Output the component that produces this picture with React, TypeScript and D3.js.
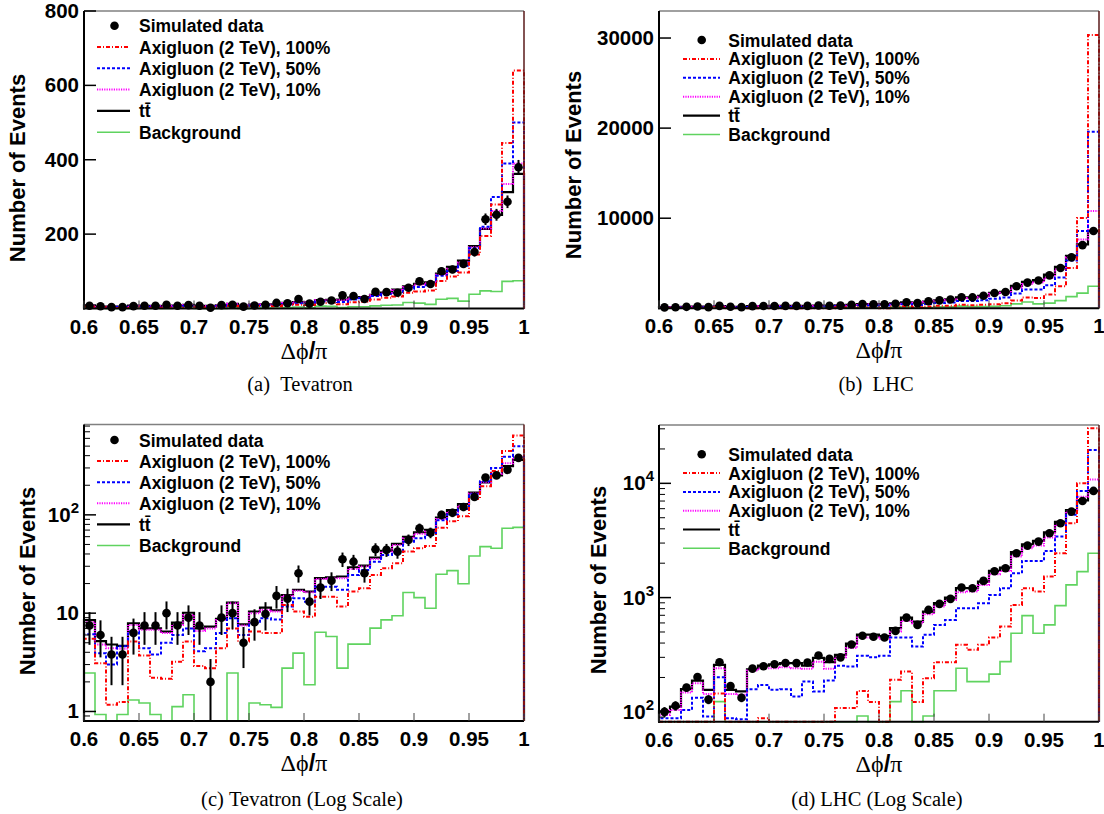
import * as d3 from "d3";

// bin edges of the delta-phi / pi histograms
const binEdges = [
  0.6, 0.61, 0.62, 0.63, 0.64, 0.65, 0.66, 0.67, 0.68, 0.69, 0.7, 0.71, 0.72, 0.73, 0.74, 0.75, 0.76, 0.77, 0.78,
  0.79, 0.8, 0.81, 0.82, 0.83, 0.84, 0.85, 0.86, 0.87, 0.88, 0.89, 0.9, 0.91, 0.92, 0.93, 0.94, 0.95, 0.96, 0.97,
  0.98, 0.99, 1.0,
];

// Tevatron
const tevData = [
  7.5, 6.0, 3.8, 3.8, 6.3, 7.5, 7.5, 10, 7.5, 9.0, 7.5, 2.0, 9.0, 10, 5.0, 8.1, 9.8, 15, 14, 25.5, 13.1, 18.2, 21.4,
  35.4, 33.4, 25.5, 44.7, 44, 42.3, 55.6, 73, 66, 100, 105, 120, 152, 240, 252, 287, 380,
];
const tevAxi100 = [
  5.5, 3.1, 1.17, 1.25, 5.15, 3.7, 2.2, 2.15, 3.2, 5.15, 2.9, 2.75, 4.4, 7.0, 5.15, 6.5, 6.3, 6.3, 12.1, 10.4, 9.2,
  14.7, 14.7, 11.7, 16.6, 17.9, 24.5, 28.6, 32.2, 42.3, 45.8, 48.3, 74, 86, 97, 145, 195, 280, 445, 640,
];
const tevAxi50 = [
  6.1, 3.9, 3.0, 4.6, 6.5, 4.4, 3.8, 5.0, 6.0, 7.0, 4.1, 4.4, 6.3, 8.9, 6.0, 7.9, 8.9, 8.6, 11.7, 14.2, 13.1, 18.6,
  18.6, 17.3, 24.5, 27.5, 33.4, 39.1, 41.7, 53.4, 57.8, 62.5, 88, 101, 115, 162, 220, 300, 390, 500,
];
const tevAxi10 = [
  8.1, 4.8, 4.4, 4.35, 7.6, 6.8, 6.8, 6.3, 7.6, 9.6, 6.6, 7.0, 8.5, 12.6, 7.5, 10, 10.8, 10.4, 15, 16.9, 16.3, 22.2,
  22.7, 22.7, 28.2, 29.8, 35.6, 42.3, 49.5, 57.8, 64.4, 67.6, 91, 107, 124, 165, 215, 262, 335, 390,
];
const tevTtbar = [
  8.5, 5.2, 4.8, 4.65, 7.9, 7.0, 7.0, 6.5, 8.0, 10.1, 7.0, 7.3, 8.75, 12.8, 7.7, 10.4, 11.4, 10.7, 15.3, 17.3, 16.6,
  22.7, 23.2, 23.6, 29.3, 30.5, 36.7, 43, 50.6, 59.6, 66.5, 70.2, 94, 112, 129, 168, 214, 252, 313, 362,
];
const tevBkg = [
  2.46, 0.93, 0, 0.93, 1.31, 1.22, 0.93, 0, 1.12, 1.48, 0, 0, 0, 2.46, 0, 1.22, 1.17, 1.1, 2.76, 3.92, 1.87, 6.4,
  5.78, 2.76, 4.84, 4.84, 7.04, 8.55, 9.4, 16.2, 14.4, 11.2, 24.9, 27.1, 19.9, 38.2, 47.5, 45.7, 73, 74.5,
];

// LHC
const lhcData = [
  100, 113, 163, 202, 128, 272, 168, 133, 239, 251, 261, 268, 267, 270, 311, 291, 300, 388, 464, 454, 448, 511, 668,
  577, 780, 881, 975, 1224, 1208, 1400, 1700, 1808, 2445, 2851, 3090, 3659, 4478, 5656, 7015, 8583,
];
const lhcAxi100 = [
  70, 70, 70, 70, 70, 145, 0, 0, 0, 88, 0, 0, 0, 0, 0, 0, 108, 108, 152, 122, 0, 191, 225, 122, 197, 272, 272, 386,
  349, 386, 447, 558, 863, 1208, 1130, 1528, 2445, 4478, 10020, 30340,
];
const lhcAxi50 = [
  88, 88, 104, 133, 91, 201, 88, 86, 158, 172, 156, 158, 136, 184, 151, 188, 253, 250, 310, 300, 310, 447, 447, 373,
  472, 577, 638, 807, 807, 893, 1056, 1208, 1634, 2094, 2094, 2563, 3419, 5300, 8583, 19600,
];
const lhcAxi10 = [
  94, 104, 148, 178, 143, 241, 143, 141, 230, 241, 241, 246, 241, 238, 275, 238, 300, 362, 447, 447, 435, 504, 625,
  597, 716, 834, 955, 1115, 1130, 1291, 1602, 1713, 2285, 2705, 2851, 3350, 4325, 5656, 7650, 10800,
];
const lhcTtbar = [
  101, 111, 158, 188, 156, 258, 156, 151, 236, 254, 261, 267, 267, 254, 297, 272, 315, 395, 475, 475, 460, 540, 668,
  617, 755, 893, 1000, 1208, 1208, 1380, 1713, 1831, 2496, 2931, 3133, 3733, 4600, 5830, 7100, 8583,
];
const lhcBkg = [
  60, 60, 60, 60, 60, 123, 60, 60, 60, 60, 60, 60, 60, 60, 60, 60, 60, 60, 92, 60, 60, 123, 153, 60, 92, 153, 153,
  241, 184, 184, 214, 275, 488, 696, 488, 577, 851, 1291, 1689, 2445,
];

const xTickVals = [0.6, 0.65, 0.7, 0.75, 0.8, 0.85, 0.9, 0.95, 1];
const xTickLabels = ["0.6", "0.65", "0.7", "0.75", "0.8", "0.85", "0.9", "0.95", "1"];

const tevLinTicks = [200, 400, 600, 800];
const lhcLinTicks = [10000, 20000, 30000];
const tevLogTicks = [1, 10, 100];
const tevLogLabels = [["1", ""], ["10", ""], ["10", "2"]];
const lhcLogTicks = [100, 1000, 10000];
const lhcLogLabels = [["10", "2"], ["10", "3"], ["10", "4"]];

const legendLabels = [
  "Simulated data",
  "Axigluon (2 TeV), 100%",
  "Axigluon (2 TeV), 50%",
  "Axigluon (2 TeV), 10%",
  "tt\u0304",
  "Background",
];

const SANS = "'Liberation Sans', Arial, Helvetica, sans-serif";
const SERIF = "'Liberation Serif', 'DejaVu Serif', serif";

const styles = {
  bkg: { color: "#5fd35f", dash: undefined, width: 1.6 },
  ttbar: { color: "#000000", dash: undefined, width: 2.2 },
  axi10: { color: "#ff00ff", dash: "1.2,1.2", width: 2 },
  axi50: { color: "#0000ff", dash: "3,2", width: 2 },
  axi100: { color: "#ff0000", dash: "4,2,1,2", width: 2 },
};

function Panel({ p }) {
  const x = d3.scaleLinear().domain([0.6, 1]).range([p.left, p.right]);
  const y = (p.log ? d3.scaleLog() : d3.scaleLinear()).domain(p.yDomain).range([p.bottom, p.top]);
  const [lo, hi] = p.yDomain;
  const yc = (v) => y(Math.max(lo, Math.min(hi, v)));

  const histPath = (vals) => {
    let d = `M${x(binEdges[0])},${p.bottom}`;
    vals.forEach((v, i) => {
      const yy = yc(v);
      d += `L${x(binEdges[i])},${yy}L${x(binEdges[i + 1])},${yy}`;
    });
    d += `L${x(binEdges[binEdges.length - 1])},${p.bottom}`;
    return d;
  };

  const series = [
    { vals: p.bkg, s: styles.bkg },
    { vals: p.ttbar, s: styles.ttbar },
    { vals: p.axi10, s: styles.axi10 },
    { vals: p.axi50, s: styles.axi50 },
    { vals: p.axi100, s: styles.axi100 },
  ];

  const minorTicks = [];
  if (p.log) {
    const e0 = Math.floor(Math.log10(lo));
    const e1 = Math.ceil(Math.log10(hi));
    for (let e = e0; e <= e1; e++) {
      for (let m = 2; m <= 9; m++) {
        const v = m * Math.pow(10, e);
        if (v >= lo && v <= hi) minorTicks.push(v);
      }
    }
  }

  const legendSamples = [null, styles.axi100, styles.axi50, styles.axi10, styles.ttbar, styles.bkg];

  return (
    <g>
      {/* histograms */}
      {series.map((sr, i) => (
        <path
          key={i}
          d={histPath(sr.vals)}
          fill="none"
          stroke={sr.s.color}
          strokeWidth={sr.s.width}
          strokeDasharray={sr.s.dash}
        />
      ))}

      {/* simulated data with poisson errors */}
      {p.data.map((v, i) => {
        const cx = x((binEdges[i] + binEdges[i + 1]) / 2);
        const err = Math.sqrt(v);
        return (
          <g key={i}>
            <line x1={cx} x2={cx} y1={yc(v - err)} y2={yc(v + err)} stroke="#000" strokeWidth={2} />
            <circle cx={cx} cy={yc(v)} r={4.3} fill="#000" />
          </g>
        );
      })}

      {/* frame */}
      <line x1={p.left} x2={p.right} y1={p.top} y2={p.top} stroke="#808080" strokeWidth={1.5} />
      <line x1={p.right} x2={p.right} y1={p.top} y2={p.bottom} stroke="#5a1a1a" strokeWidth={1.5} />
      <line x1={p.left} x2={p.left} y1={p.top} y2={p.bottom + 1} stroke="#000" strokeWidth={2} />
      <line x1={p.left - 1} x2={p.right} y1={p.bottom} y2={p.bottom} stroke="#000" strokeWidth={2} />

      {/* x axis */}
      {xTickVals.map((t, i) => (
        <g key={i}>
          <line x1={x(t)} x2={x(t)} y1={p.bottom} y2={p.bottom - 8} stroke="#444" strokeWidth={1} />
          <text
            x={x(t)}
            y={p.bottom + 25}
            textAnchor="middle"
            fontFamily={SANS}
            fontWeight="bold"
            fontSize={20.5}
          >
            {xTickLabels[i]}
          </text>
        </g>
      ))}
      <text x={(p.left + p.right) / 2} y={p.bottom + 50} textAnchor="middle" fontSize={24}>
        <tspan fontFamily={SERIF}>Δϕ</tspan>
        <tspan fontFamily={SANS} fontWeight="bold">/</tspan>
        <tspan fontFamily={SERIF}>π</tspan>
      </text>

      {/* y axis */}
      {minorTicks.map((t, i) => (
        <line key={i} x1={p.left} x2={p.left + 6} y1={y(t)} y2={y(t)} stroke="#000" strokeWidth={1} />
      ))}
      {p.yTicks.map((t, i) => (
        <g key={i}>
          <line x1={p.left} x2={p.left + 12} y1={y(t)} y2={y(t)} stroke="#000" strokeWidth={1.5} />
          <text
            x={p.left - 5}
            y={y(t) + 7}
            textAnchor="end"
            fontFamily={SANS}
            fontWeight="bold"
            fontSize={20.5}
          >
            {p.log ? (
              <>
                {p.yLabels[i][0]}
                {p.yLabels[i][1] && (
                  <tspan dy={-9} fontSize={15}>
                    {p.yLabels[i][1]}
                  </tspan>
                )}
              </>
            ) : (
              String(t)
            )}
          </text>
        </g>
      ))}
      <text
        transform={`translate(${p.yTitleX},${p.yTitleY}) rotate(-90)`}
        textAnchor="middle"
        dy="0.35em"
        fontFamily={SANS}
        fontWeight="bold"
        fontSize={22}
      >
        Number of Events
      </text>

      {/* legend */}
      {legendLabels.map((lab, i) => {
        const ly = p.top + p.legTop + i * p.legGap;
        const s = legendSamples[i];
        return (
          <g key={i}>
            {s ? (
              <line
                x1={p.left + p.legLine[0]}
                x2={p.left + p.legLine[1]}
                y1={ly}
                y2={ly}
                stroke={s.color}
                strokeWidth={s.width}
                strokeDasharray={s.dash}
              />
            ) : (
              <circle cx={p.left + p.legDot} cy={ly} r={4.3} fill="#000" />
            )}
            <text
              x={p.left + p.legText}
              y={ly + 6.5}
              fontFamily={SANS}
              fontWeight="bold"
              fontSize={17.5}
            >
              {lab}
            </text>
          </g>
        );
      })}

      {/* caption */}
      <text
        x={p.capX}
        y={p.capY}
        textAnchor="middle"
        fontFamily={SERIF}
        fontSize={20.5}
        style={{ whiteSpace: "pre" }}
      >
        {p.caption}
      </text>
    </g>
  );
}

const panels = [
  {
    left: 84, right: 524, top: 11, bottom: 308.5, log: false, yDomain: [0, 800], yTicks: tevLinTicks,
    data: tevData, axi100: tevAxi100, axi50: tevAxi50, axi10: tevAxi10, ttbar: tevTtbar, bkg: tevBkg,
    yTitleX: 17.5, yTitleY: 168, legTop: 14.7, legGap: 21.3, legDot: 30.5, legLine: [13, 46], legText: 55,
    caption: "(a)\u00a0\u00a0Tevatron", capX: 300, capY: 391,
  },
  {
    left: 659, right: 1099, top: 11, bottom: 308.3, log: false, yDomain: [0, 33000], yTicks: lhcLinTicks,
    data: lhcData, axi100: lhcAxi100, axi50: lhcAxi50, axi10: lhcAxi10, ttbar: lhcTtbar, bkg: lhcBkg,
    yTitleX: 573.5, yTitleY: 165, legTop: 29, legGap: 18.9, legDot: 42.7, legLine: [24, 61], legText: 69.3,
    caption: "(b)\u00a0\u00a0LHC", capX: 876, capY: 391,
  },
  {
    left: 84, right: 524, top: 424.5, bottom: 721, log: true, yDomain: [0.8, 830], yTicks: tevLogTicks,
    yLabels: tevLogLabels,
    data: tevData, axi100: tevAxi100, axi50: tevAxi50, axi10: tevAxi10, ttbar: tevTtbar, bkg: tevBkg,
    yTitleX: 27.5, yTitleY: 581, legTop: 15.5, legGap: 21.1, legDot: 30.5, legLine: [13, 46], legText: 55,
    caption: "(c)\u00a0Tevatron\u00a0(Log\u00a0Scale)", capX: 302, capY: 806,
  },
  {
    left: 659, right: 1099, top: 425, bottom: 721.7, log: true, yDomain: [82, 32400], yTicks: lhcLogTicks,
    yLabels: lhcLogLabels,
    data: lhcData, axi100: lhcAxi100, axi50: lhcAxi50, axi10: lhcAxi10, ttbar: lhcTtbar, bkg: lhcBkg,
    yTitleX: 598.5, yTitleY: 580, legTop: 29.3, legGap: 18.8, legDot: 42.7, legLine: [24, 61], legText: 69.3,
    caption: "(d)\u00a0LHC\u00a0(Log\u00a0Scale)", capX: 877, capY: 806,
  },
];

export default function App() {
  return (
    <svg
      width={1104}
      height={814}
      style={{ position: "absolute", left: 0, top: 0, background: "#fff" }}
    >
      <rect width={1104} height={814} fill="#fff" />
      {panels.map((p, i) => (
        <Panel key={i} p={p} />
      ))}
    </svg>
  );
}
